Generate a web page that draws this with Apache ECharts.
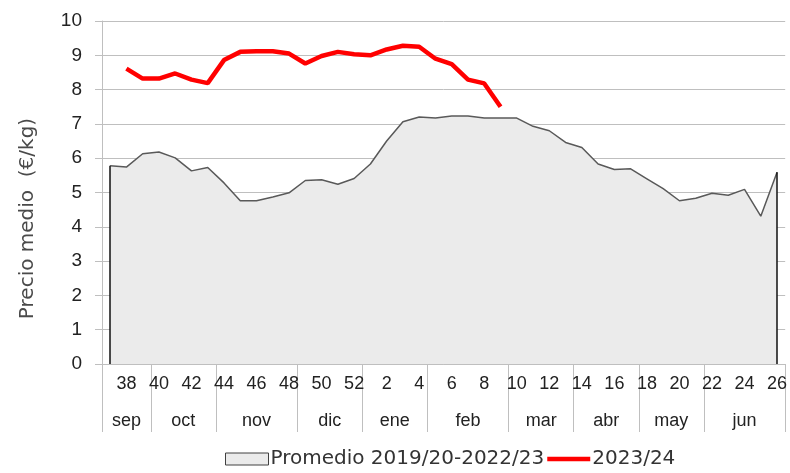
<!DOCTYPE html>
<html>
<head>
<meta charset="utf-8">
<script src="https://cdn.jsdelivr.net/npm/echarts@6/dist/echarts.min.js"></script>
<style>
  html, body { margin: 0; padding: 0; background: #fff; }
  #chart { width: 790px; height: 473px; }
</style>
</head>
<body>
<div id="chart"></div>
<script>
// semanas de campaña (sep -> jun)
const weeks = ['37','38','39','40','41','42','43','44','45','46','47','48','49','50','51','52',
  '1','2','3','4','5','6','7','8','9','10','11','12','13','14','15','16','17','18','19','20',
  '21','22','23','24','25','26'];
const months = ['sep','oct','nov','dic','ene','feb','mar','abr','may','jun'];
const monthWeeks = [3, 4, 5, 4, 4, 5, 4, 4, 4, 5];
const yTicks = [0, 1, 2, 3, 4, 5, 6, 7, 8, 9, 10];

const promedio = [5.78, 5.74, 6.13, 6.18, 6.01, 5.63, 5.73, 5.28, 4.76, 4.76, 4.87, 4.99,
  5.35, 5.37, 5.24, 5.41, 5.83, 6.50, 7.06, 7.20, 7.17, 7.23, 7.23, 7.17, 7.17, 7.17,
  6.93, 6.80, 6.46, 6.31, 5.83, 5.67, 5.69, 5.40, 5.11, 4.76, 4.83, 4.98, 4.92, 5.09,
  4.31, 5.59];
const campana = [null, 8.61, 8.32, 8.32, 8.47, 8.29, 8.19, 8.86, 9.10, 9.12, 9.12, 9.05,
  8.76, 8.98, 9.10, 9.03, 9.00, 9.17, 9.28, 9.25, 8.90, 8.74, 8.29, 8.18, 7.50,
  null, null, null, null, null, null, null, null, null, null, null, null, null, null,
  null, null, null];

// eje de meses: puntos cada media semana
const monthSlots = new Array(weeks.length * 2 + 1).fill('');
const monthEdges = {0: true};
let acc = 0;
months.forEach((m, k) => {
  monthSlots[acc * 2 + monthWeeks[k]] = m;
  acc += monthWeeks[k];
  monthEdges[acc * 2] = true;
});

const chart = echarts.init(document.getElementById('chart'), null, {renderer: 'canvas'});
const labelFont = 'Liberation Sans, Arial, sans-serif';

chart.setOption({
  animation: false,
  grid: { left: 102, right: 0, top: 21, bottom: 109 },
  legend: {
    left: 225,
    top: 449,
    padding: 0,
    itemGap: 3,
    itemWidth: 43,
    itemHeight: 12,
    textStyle: { fontFamily: 'DejaVu Sans', fontSize: 20, color: '#333', padding: [0, 0, 0, -3] },
    data: [
      { name: 'Promedio 2019/20-2022/23', icon: 'rect',
        itemStyle: { color: '#ebebeb', borderColor: '#404040', borderWidth: 1 } },
      { name: '2023/24', icon: 'path://M0,0 L40,0 L40,4 L0,4 Z',
        itemStyle: { color: '#ff0000', borderWidth: 0 } }
    ]
  },
  xAxis: [
    {
      type: 'category',
      data: weeks,
      boundaryGap: true,
      axisLine: { lineStyle: { color: '#bfbfbf', width: 1 } },
      axisTick: { interval: 0, length: 34, lineStyle: { color: '#bfbfbf' } },
      axisLabel: {
        interval: (i) => i % 2 === 1,
        margin: 11,
        fontFamily: labelFont,
        fontSize: 18,
        color: '#222'
      },
      splitLine: { show: false }
    },
    {
      type: 'category',
      position: 'bottom',
      data: monthSlots,
      boundaryGap: false,
      axisLine: { show: false },
      axisTick: { interval: (i) => !!monthEdges[i], length: 68, lineStyle: { color: '#bfbfbf' } },
      axisLabel: {
        interval: (i, v) => v !== '',
        margin: 48,
        fontFamily: labelFont,
        fontSize: 18,
        color: '#222'
      },
      splitLine: { show: false }
    }
  ],
  yAxis: {
    type: 'value',
    min: yTicks[0],
    max: yTicks[yTicks.length - 1],
    interval: 1,
    name: 'Precio medio  (€/kg)',
    nameLocation: 'middle',
    nameGap: 64,
    nameTextStyle: { fontFamily: 'DejaVu Sans', fontSize: 20, color: '#4a4a4a', padding: [0, 52, 0, 0] },
    axisLine: { show: true, lineStyle: { color: '#bfbfbf' } },
    axisTick: { show: true, length: 7, lineStyle: { color: '#bfbfbf' } },
    axisLabel: { margin: 20, fontFamily: labelFont, fontSize: 19, color: '#222' },
    splitLine: { lineStyle: { color: '#bfbfbf', width: 1 } }
  },
  series: [
    {
      name: 'Promedio 2019/20-2022/23',
      type: 'line',
      data: promedio,
      symbol: 'none',
      lineStyle: { color: '#595959', width: 1.5 },
      itemStyle: { color: '#ebebeb', borderColor: '#404040' },
      areaStyle: { color: '#ebebeb', opacity: 1 },
      markLine: {
        silent: true,
        symbol: 'none',
        label: { show: false },
        lineStyle: { color: '#111', width: 1.5, type: 'solid' },
        data: [
          [{ coord: [weeks[0], 0] }, { coord: [weeks[0], promedio[0]] }],
          [{ coord: [weeks[weeks.length - 1], 0] }, { coord: [weeks[weeks.length - 1], promedio[promedio.length - 1]] }]
        ]
      }
    },
    {
      name: '2023/24',
      type: 'line',
      data: campana,
      symbol: 'none',
      lineStyle: { color: '#ff0000', width: 4.5 },
      itemStyle: { color: '#ff0000' }
    }
  ]
});
</script>
</body>
</html>
